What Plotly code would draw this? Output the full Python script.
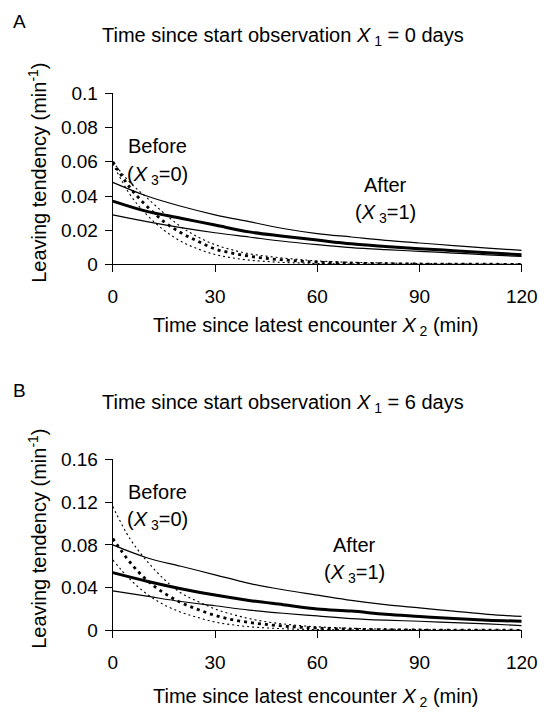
import plotly.graph_objects as go

# ---------------- data ----------------
x_solid = [0, 10, 20, 30, 40, 50, 60, 70, 80, 90, 100, 110, 120]
x_dot = [0, 5, 10, 15, 20, 25, 30, 35, 40, 45, 50, 55, 60, 70, 80, 90, 100, 110, 120]

# Panel A (X1 = 0 days)
a_after_upper = [0.048, 0.040, 0.034, 0.029, 0.025, 0.021, 0.018, 0.016, 0.014, 0.0125, 0.011, 0.0095, 0.0082]
a_after_mid = [0.037, 0.031, 0.027, 0.023, 0.019, 0.0165, 0.0142, 0.012, 0.0105, 0.0092, 0.008, 0.0068, 0.0056]
a_after_lower = [0.029, 0.025, 0.0215, 0.0185, 0.016, 0.0135, 0.0115, 0.0098, 0.0086, 0.0076, 0.0066, 0.0056, 0.0046]
a_before_upper = [0.060, 0.048, 0.039, 0.030, 0.022, 0.016, 0.0115, 0.0085, 0.0062, 0.0048, 0.0037, 0.0028, 0.002,
                  0.0012, 0.0008, 0.0005, 0.0003, 0.0002, 0.0001]
a_before_mid = [0.060, 0.045, 0.034, 0.025, 0.0185, 0.0135, 0.009, 0.0066, 0.0048, 0.0035, 0.0026, 0.0019, 0.0013,
                0.0007, 0.0004, 0.0002, 0.0001, 0.00005, 0.00003]
a_before_lower = [0.059, 0.041, 0.029, 0.020, 0.0135, 0.009, 0.0058, 0.0038, 0.0025, 0.0017, 0.0011, 0.0008, 0.0005,
                  0.0002, 0.0001, 0.00005, 0.00002, 0.00001, 0.0]

# Panel B (X1 = 6 days)
b_after_upper = [0.080, 0.068, 0.060, 0.052, 0.044, 0.038, 0.033, 0.028, 0.024, 0.021, 0.018, 0.015, 0.013]
b_after_mid = [0.054, 0.046, 0.039, 0.033, 0.028, 0.024, 0.020, 0.018, 0.015, 0.013, 0.011, 0.0095, 0.0085]
b_after_lower = [0.037, 0.032, 0.027, 0.023, 0.019, 0.016, 0.0135, 0.011, 0.0095, 0.0085, 0.0072, 0.006, 0.0045]
b_before_upper = [0.116, 0.086, 0.065, 0.048, 0.035, 0.027, 0.020, 0.015, 0.011, 0.008, 0.006, 0.0044, 0.0033,
                  0.0019, 0.0011, 0.0007, 0.0004, 0.0002, 0.0001]
b_before_mid = [0.086, 0.064, 0.047, 0.035, 0.026, 0.0195, 0.014, 0.010, 0.0074, 0.0055, 0.004, 0.0029, 0.0021,
                0.0011, 0.0006, 0.0003, 0.0002, 0.0001, 0.00005]
b_before_lower = [0.066, 0.048, 0.034, 0.024, 0.017, 0.012, 0.0078, 0.0052, 0.0034, 0.0023, 0.0015, 0.001, 0.0007,
                  0.0003, 0.0002, 0.0001, 0.00005, 0.00002, 0.00001]

x_ticks = [0, 30, 60, 90, 120]
a_y_ticks = [0, 0.02, 0.04, 0.06, 0.08, 0.1]
a_y_labels = ["0", "0.02", "0.04", "0.06", "0.08", "0.1"]
b_y_ticks = [0, 0.04, 0.08, 0.12, 0.16]
b_y_labels = ["0", "0.04", "0.08", "0.12", "0.16"]

panel_titles = ["Time since start observation <i>X</i><sub> 1</sub> = 0 days",
                "Time since start observation <i>X</i><sub> 1</sub> = 6 days"]
x_title = "Time since latest encounter <i>X</i><sub> 2</sub> (min)"
y_title = "Leaving tendency (min<sup>-1</sup>)"

# ---------------- figure ----------------
W, H = 556, 719
FONT = "Arial, Liberation Sans, sans-serif"
fig = go.Figure()


def px_x(p):
    return p / W


def px_y(p):
    return 1 - p / H


panels = [
    dict(xa="x", ya="y", top=86, bot=262,
         after=(a_after_upper, a_after_mid, a_after_lower),
         before=(a_before_upper, a_before_mid, a_before_lower)),
    dict(xa="x2", ya="y2", top=463, bot=639,
         after=(b_after_upper, b_after_mid, b_after_lower),
         before=(b_before_upper, b_before_mid, b_before_lower)),
]

for p in panels:
    up, mid, lo = p["before"]
    for ys, w, dash in ((up, 1.1, "2px,3px"), (lo, 1.1, "2px,3px"), (mid, 2.8, "3px,4px")):
        fig.add_trace(go.Scatter(x=x_dot, y=ys, mode="lines", xaxis=p["xa"], yaxis=p["ya"],
                                 line=dict(color="black", width=w, dash=dash, shape="spline"),
                                 showlegend=False, hoverinfo="skip"))
    up, mid, lo = p["after"]
    for ys, w in ((up, 1.2), (lo, 1.2), (mid, 3)):
        fig.add_trace(go.Scatter(x=x_solid, y=ys, mode="lines", xaxis=p["xa"], yaxis=p["ya"],
                                 line=dict(color="black", width=w, shape="spline"),
                                 showlegend=False, hoverinfo="skip"))

axis_common = dict(showline=True, linecolor="black", linewidth=1.2, ticks="outside",
                   ticklen=7, tickcolor="black", tickwidth=1.2, showgrid=False, zeroline=False,
                   tickfont=dict(family=FONT, size=19, color="black"))

x_dom = [px_x(112), px_x(537)]
fig.update_layout(
    width=W, height=H, margin=dict(l=0, r=0, t=0, b=0),
    paper_bgcolor="white", plot_bgcolor="white",
    font=dict(family=FONT, color="black", size=19),
    xaxis=dict(domain=x_dom, range=[0, 120], tickvals=x_ticks, anchor="y",
               ticklabelstandoff=8, **axis_common),
    yaxis=dict(domain=[px_y(262), px_y(86)], range=[0, 0.1], tickvals=a_y_ticks,
               ticktext=a_y_labels, anchor="x", ticklabelstandoff=3, **axis_common),
    xaxis2=dict(domain=x_dom, range=[0, 120], tickvals=x_ticks, anchor="y2",
                ticklabelstandoff=8, **axis_common),
    yaxis2=dict(domain=[px_y(639), px_y(463)], range=[0, 0.16], tickvals=b_y_ticks,
                ticktext=b_y_labels, anchor="x2", ticklabelstandoff=3, **axis_common),
)

ann = []
# panel letters, titles, axis titles
for letter, ly, ty, xty, top, bot, title in (("A", 12, 27, 326, 86, 262, panel_titles[0]),
                                            ("B", 392, 405, 708, 463, 639, panel_titles[1])):
    ann.append(dict(text=letter, x=px_x(6), y=px_y(ly), xref="paper", yref="paper",
                    xanchor="left", yanchor="middle", showarrow=False,
                    font=dict(family=FONT, size=19, color="black")))
    ann.append(dict(text=title, x=px_x(289), y=px_y(ty), xref="paper", yref="paper",
                    xanchor="center", yanchor="middle", showarrow=False,
                    font=dict(family=FONT, size=20, color="black")))
    ann.append(dict(text=x_title, x=px_x(323), y=px_y(xty), xref="paper", yref="paper",
                    xanchor="center", yanchor="middle", showarrow=False,
                    font=dict(family=FONT, size=20, color="black")))
    ann.append(dict(text=y_title, x=px_x(33), y=px_y((top + bot) / 2 - 6), xref="paper", yref="paper",
                    xanchor="center", yanchor="middle", showarrow=False, textangle=-90,
                    font=dict(family=FONT, size=20, color="black")))

# in-plot labels
labels = [
    ("x", "y", 13, 0.069, "Before"), ("x", "y", 13, 0.052, "(<i>X</i><sub> 3</sub>=0)"),
    ("x", "y", 80, 0.0465, "After"), ("x", "y", 80, 0.030, "(<i>X</i><sub> 3</sub>=1)"),
    ("x2", "y2", 13, 0.130, "Before"), ("x2", "y2", 13, 0.103, "(<i>X</i><sub> 3</sub>=0)"),
    ("x2", "y2", 71, 0.080, "After"), ("x2", "y2", 71, 0.053, "(<i>X</i><sub> 3</sub>=1)"),
]
for xr, yr, xv, yv, t in labels:
    ann.append(dict(text=t, x=xv, y=yv, xref=xr, yref=yr, xanchor="center", yanchor="middle",
                    showarrow=False, font=dict(family=FONT, size=20, color="black")))

fig.update_layout(annotations=ann)
fig.write_html("out.html", config={"displayModeBar": False},
               post_script="document.body.style.margin='0px';")
